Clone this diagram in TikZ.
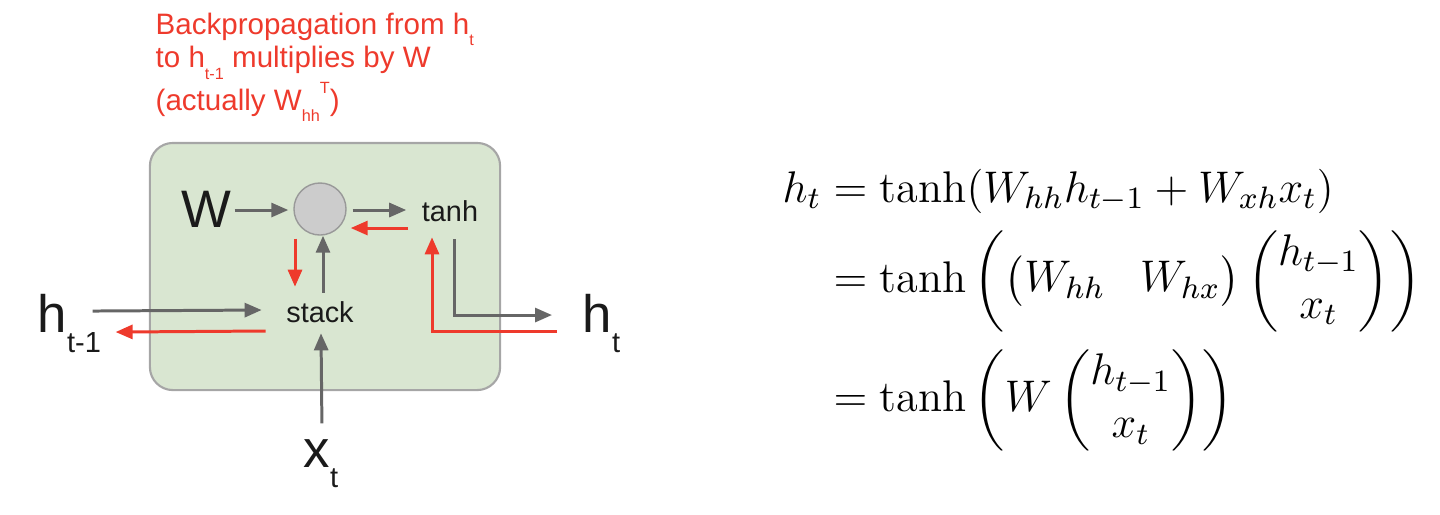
\RequirePackage{fix-cm}
\documentclass[tikz,border=0pt]{standalone}
\usepackage{amsmath}
\usepackage{fontspec}
\newfontfamily\arial{Liberation Sans}
\usetikzlibrary{arrows.meta}
\definecolor{ink}{HTML}{1A1A1A}
\definecolor{arrgray}{HTML}{666666}
\definecolor{bpred}{HTML}{EE3A2C}
\definecolor{cellgreen}{HTML}{D9E6D1}
\newcommand{\lo}[1]{\raisebox{-0.38em}{\scalebox{0.55}{#1}}}
\newcommand{\hi}[1]{\raisebox{0.55em}{\scalebox{0.55}{#1}}}

\begin{document}
\begin{tikzpicture}[
  x=0.01cm, y=-0.01cm,
  >={Triangle[length=1.7mm, width=1.4mm]},
  cell/.style={draw=gray!70, line width=0.6pt, fill=cellgreen, rounded corners=2.3mm},
  big/.style={font={\arial\fontsize{15}{18}\selectfont}, text=ink, inner sep=0pt},
  op/.style={font={\arial\fontsize{8.2}{10}\selectfont}, text=ink, inner sep=0pt},
  dot/.style={circle, draw=gray!80, fill=gray!40, minimum size=5.2mm, inner sep=0pt},
  note/.style={font={\arial\fontsize{8.4}{9.6}\selectfont}, text=bpred, align=left, inner sep=0pt},
  garr/.style={->, draw=arrgray, line width=0.85pt},
  rarr/.style={->, draw=bpred, line width=0.85pt}
]
\useasboundingbox (0,0) rectangle (1440,514);

\node[cell, minimum width=3.5cm, minimum height=2.47cm] (cell) at (325,266.5) {};
\node[note, anchor=north west] (note) at (155,12)
  {Backpropagation from h\lo{t}\\
   to h\lo{t-1} multiplies by W\\
   (actually W\lo{hh}\hi{T})};

\node[dot] (mul) at (320,209) {};
\node[big] (W) at (206,209) {W};
\node[op] (tanh) at (450,211) {tanh};
\node[op] (stack) at (320,312) {stack};
\node[big, anchor=base west] (hprev) at (37,332) {h\lo{t-1}};
\node[big, anchor=base west] (ht) at (582,332) {h\lo{t}};
\node[big, anchor=base west] (xt) at (303,467) {x\lo{t}};

% forward pass
\draw[garr] ([shift={(3,1)}]W.east) -- ([shift={(-5,1)}]mul.west);
\draw[garr] ([shift={(6,1)}]mul.east) -- ([shift={(-15,-1)}]tanh.west);
\draw[garr] ([shift={(3,-8)}]stack.north) -- ([shift={(3,0)}]mul.south);
\draw[garr] ([shift={(-9,-12)}]hprev.east) -- ([shift={(-24,-2)}]stack.west);
\draw[garr] ([shift={(1,-15)}]xt.north) -- ([shift={(1,10)}]stack.south);
\draw[garr] ([shift={(4,17)}]tanh.south) |- ([shift={(-30,-8)}]ht.west);

% backward pass
\draw[rarr] ([shift={(-25,8)}]ht.west) -| ([shift={(-18,15)}]tanh.south);
\draw[rarr] ([shift={(-13,17)}]tanh.west) -- ([shift={(4,19)}]mul.east);
\draw[rarr] ([shift={(-25,3)}]mul.south) -- ([shift={(-25,-14)}]stack.north);
\draw[rarr] ([shift={(-20,19)}]stack.west) -- ([shift={(14,9)}]hprev.east);

\node[anchor=base west, inner sep=0pt, font=\fontsize{12.6}{15}\selectfont] (eq) at (782,202)
  {$\begin{aligned}[t]
    h_t &= \tanh(W_{hh}h_{t-1} + W_{xh}x_t)\\[-1pt]
        &= \tanh\left(\begin{pmatrix}W_{hh} & W_{hx}\end{pmatrix}
           \begin{pmatrix}h_{t-1}\\ x_t\end{pmatrix}\right)\\
        &= \tanh\left(W\begin{pmatrix}h_{t-1}\\ x_t\end{pmatrix}\right)
  \end{aligned}$};
\end{tikzpicture}
\end{document}
